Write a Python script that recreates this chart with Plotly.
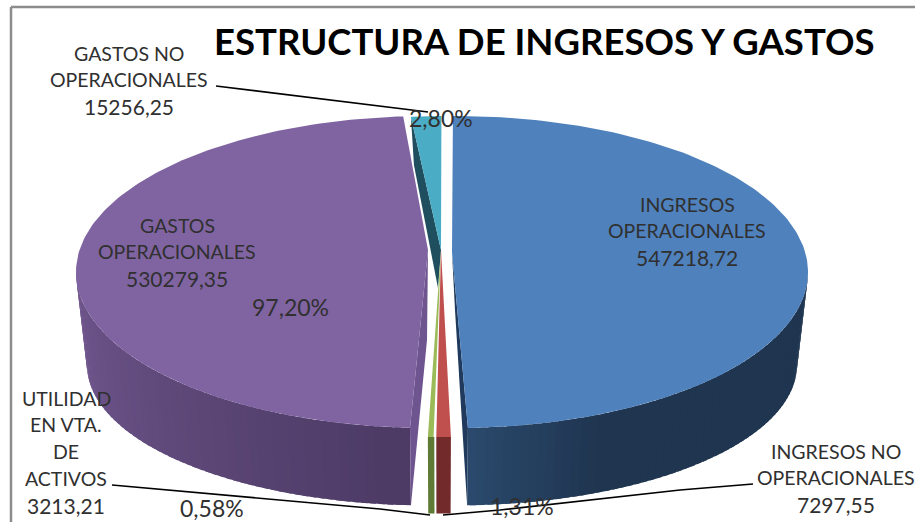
import numpy as np
import plotly.graph_objects as go

# ---- data ----
names = [["INGRESOS", "OPERACIONALES"], ["INGRESOS NO", "OPERACIONALES"],
         ["UTILIDAD", "EN VTA.", "DE", "ACTIVOS"], ["GASTOS", "OPERACIONALES"],
         ["GASTOS NO", "OPERACIONALES"]]
values = [547218.72, 7297.55, 3213.21, 530279.35, 15256.25]
percents = ["", "1,31%", "0,58%", "97,20%", "2,80%"]
title = "ESTRUCTURA DE INGRESOS Y GASTOS"

# ---- styling / projection of the exploded 3-D pie ----
top_colors = ["#4f81bd", "#c0504d", "#9bbb59", "#8064a2", "#4bacc6"]
A, B = 352.0, 156.0
CX = [456, 439, 437, 428, 444.5]
CY = [272, 281, 281, 272, 272]
ROT = [0.0, 0.0, 0.0, 1.44, 0.0]
APEX = [(452, 252), (441, 250), (441, 250), (428, 250), (441, 250)]
START = -0.5
MID_X, TOP_Y, BOT_Y, SX, SY = 441.0, 272.0, 365.0, 0.97, 0.90
wall_a = ["#1f3550", "#722b2a", "#5f7a35", "#4d3b66", "#205060"]
wall_b = ["#2c4c70", "#722b2a", "#5f7a35", "#72588f", "#205060"]

angles = np.array(values) / sum(values) * 360.0
ends = START + np.cumsum(angles)
starts = ends - angles


def top(i, deg):
    t = np.radians(deg + ROT[i])
    return CX[i] + A * np.sin(t), CY[i] - B * np.cos(t)


def down(x, y):
    return MID_X + SX * (np.asarray(x) - MID_X), BOT_Y + SY * (np.asarray(y) - TOP_Y)


def mix(c1, c2, f):
    a = [int(c1[k:k + 2], 16) for k in (1, 3, 5)]
    b = [int(c2[k:k + 2], 16) for k in (1, 3, 5)]
    return "#%02x%02x%02x" % tuple(round(p + (q - p) * f) for p, q in zip(a, b))


fig = go.Figure()


def poly(xs, ys, color):
    fig.add_trace(go.Scatter(x=list(xs), y=list(ys), mode="lines", fill="toself", fillcolor=color,
                             line=dict(color=color, width=0), hoverinfo="skip", showlegend=False))


def outer_wall(i, lo, hi, steps):
    d = np.linspace(lo, hi, steps + 1)
    for k in range(steps):
        d1 = min(d[k + 1] + 1.0, hi)
        dd = np.linspace(d[k], d1, 5)
        xs, ys = top(i, dd)
        bx, by = down(xs, ys)
        f = np.clip((abs(d[k] - 180) - 5) / 85, 0, 1)
        if i == 0:
            c = mix(wall_b[i], wall_a[i], min(1, abs(d[k] - 180) / 25))
        else:
            c = mix(wall_a[i], wall_b[i], f)
        poly(np.r_[xs, bx[::-1]], np.r_[ys, by[::-1]], c)


def surface(i):
    d = np.linspace(starts[i], ends[i], 160)
    xs, ys = top(i, d)
    ax, ay = APEX[i]
    poly(np.r_[ax, xs, ax], np.r_[ay, ys, ay], top_colors[i])


def radial_wall(i, deg, color, apex_shift, apex_depth):
    x, y = top(i, deg)
    bx, by = down(x, y)
    ax, ay = APEX[i]
    poly([ax, x, bx, ax + apex_shift], [ay, y, by, ay + apex_depth], color)


# teal slice: only its back inner face is visible
tx, ty = top(4, starts[4])
ax4, ay4 = APEX[4]
poly([ax4, tx, tx + 3, ax4 - 3], [ay4, ty, ty + 48, ay4 + 38], "#1f4f5e")
surface(4)

# purple
outer_wall(3, starts[3], 270, 60)
radial_wall(3, starts[3], "#6f5590", -1, 90)
surface(3)

# blue
outer_wall(0, 90, ends[0], 60)
radial_wall(0, ends[0], "#1f3a5c", 3, 58)
surface(0)

# green, red
for i in (2, 1):
    outer_wall(i, starts[i], ends[i], 1)
    surface(i)

# frame lines
frame_color = "#8c8c8c"
fig.add_shape(type="line", x0=11, x1=915, y0=7, y1=7, line=dict(color=frame_color, width=2.5))
fig.add_shape(type="line", x0=11, x1=11, y0=7, y1=522, line=dict(color=frame_color, width=2.5))

# leader lines
leaders = [([216, 428], [86, 112]), ([112, 380, 430], [485, 509, 515]), ([753, 680, 500, 443], [484, 490, 510, 515])]
for lx, ly in leaders:
    fig.add_trace(go.Scatter(x=lx, y=ly, mode="lines", line=dict(color="#000000", width=1.6),
                             hoverinfo="skip", showlegend=False))

text_color = "#303030"
FONT = "Lato, Carlito, Calibri, sans-serif"
LINE_GAP = 26.8


def note(text, x, y, size=19.5, color=text_color):
    fig.add_annotation(x=x, y=y, text=text, showarrow=False, xanchor="center", yanchor="middle",
                       align="center", font=dict(family=FONT, size=size, color=color))


def fmt(v):
    return f"{v:.2f}".replace(".", ",")


label_pos = [(687, 204), (836, 451), (66, 398), (177, 225), (129, 53)]
for n, v, (x, y) in zip(names, values, label_pos):
    for k, line in enumerate(n):
        note(line, x, y + k * LINE_GAP)
    note(fmt(v), x, y + len(n) * LINE_GAP, size=21)

pct_pos = [None, (522, 506), (212, 508), (290, 307), (441, 118)]
for p, pos in zip(percents, pct_pos):
    if pos:
        note(p, pos[0], pos[1], size=23)

fig.add_annotation(x=544, y=41, text=f"<b>{title}</b>", showarrow=False, xanchor="center", yanchor="middle",
                   font=dict(family=FONT, size=36.5, color="#000000"))

fig.update_layout(
    width=915, height=522, margin=dict(l=0, r=0, t=0, b=0), autosize=False,
    paper_bgcolor="#ffffff", plot_bgcolor="#ffffff", showlegend=False,
    xaxis=dict(range=[0, 915], visible=False, fixedrange=True),
    yaxis=dict(range=[522, 0], visible=False, fixedrange=True),
)
fig.write_html("out.html", config={"displayModeBar": False},
               post_script="document.body.style.margin='0';document.body.style.overflow='hidden';")
